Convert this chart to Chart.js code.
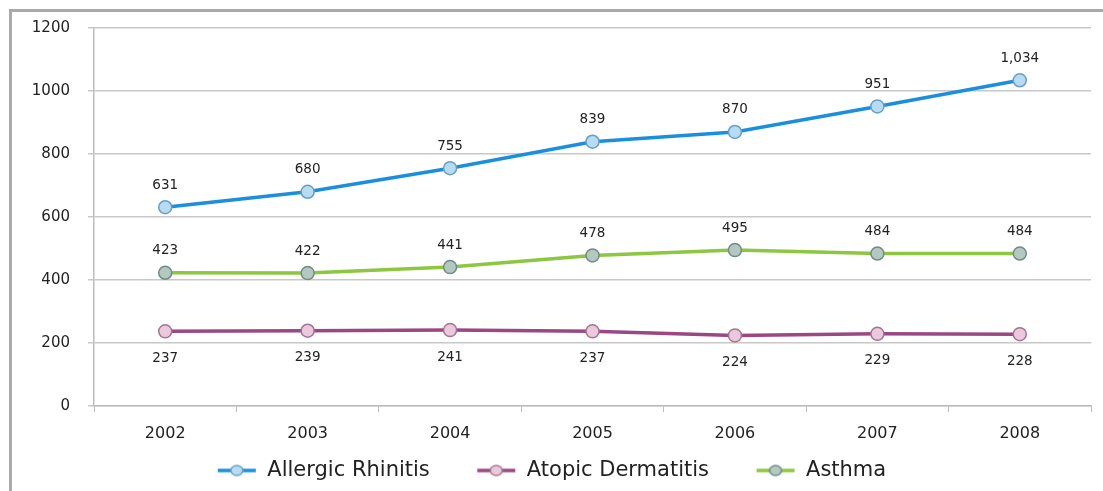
<!DOCTYPE html>
<html>
<head>
<meta charset="utf-8">
<script src="https://cdn.jsdelivr.net/npm/chart.js@4"></script>
<style>
  html, body { margin: 0; padding: 0; background: #fff; }
  #wrap { position: relative; width: 1103px; height: 491px; overflow: hidden; }
  #frame { position: absolute; left: 9px; top: 9px; width: 1200px; height: 600px;
           border-left: 3px solid #a9a9a9; border-top: 3px solid #a9a9a9; }
  canvas { position: absolute; left: 0; top: 0; }
</style>
</head>
<body>
<div id="wrap">
  <div id="frame"></div>
  <canvas id="c" width="1103" height="491"></canvas>
</div>
<script>
const years = ['2002', '2003', '2004', '2005', '2006', '2007', '2008'];
const allergicRhinitis = [631, 680, 755, 839, 870, 951, 1034];
const atopicDermatitis = [237, 239, 241, 237, 224, 229, 228];
const asthma = [423, 422, 441, 478, 495, 484, 484];
const yTicks = [0, 200, 400, 600, 800, 1000, 1200];

const FONT = '"DejaVu Sans", Verdana, sans-serif';
// extra gap after a legend entry (em + en space)
const LEGEND_GAP = '\u2003\u2002';

// Legend swatch: a short line with a circle marker on it
function swatch(line, fill, edge) {
  const cv = document.createElement('canvas');
  cv.width = 40; cv.height = 16;
  const g = cv.getContext('2d');
  g.strokeStyle = line; g.lineWidth = 3.5;
  g.beginPath(); g.moveTo(1, 8); g.lineTo(39, 8); g.stroke();
  g.beginPath(); g.ellipse(20, 8, 6, 5, 0, 0, Math.PI * 2);
  g.fillStyle = fill; g.fill();
  g.lineWidth = 1.5; g.strokeStyle = edge; g.stroke();
  return cv;
}

const series = [
  { label: 'Allergic Rhinitis', data: allergicRhinitis, line: '#1b8fdb', fill: '#b5dcf3', edge: '#6b9fc0', pos: 'above' },
  { label: 'Atopic Dermatitis', data: atopicDermatitis, line: '#9a4784', fill: '#ecc8de', edge: '#a27692', pos: 'below' },
  { label: 'Asthma', data: asthma, line: '#8dc63f', fill: '#b3c8c0', edge: '#6f8d83', pos: 'above' }
];

// Value labels above or below each point
const valueLabels = {
  id: 'valueLabels',
  afterDatasetsDraw(chart) {
    const ctx = chart.ctx;
    ctx.save();
    ctx.font = '13.5px ' + FONT;
    ctx.fillStyle = '#222';
    ctx.textAlign = 'center';
    ctx.textBaseline = 'middle';
    chart.data.datasets.forEach((ds, i) => {
      const meta = chart.getDatasetMeta(i);
      meta.data.forEach((pt, j) => {
        const v = ds.data[j];
        const dy = ds.labelPos === 'below' ? 27 : -22;
        ctx.fillText(v.toLocaleString('en-US'), pt.x, pt.y + dy);
      });
    });
    ctx.restore();
  }
};

new Chart(document.getElementById('c'), {
  type: 'line',
  data: {
    labels: years,
    datasets: series.map(s => ({
      label: s.label,
      data: s.data,
      labelPos: s.pos,
      borderColor: s.line,
      backgroundColor: s.line,
      borderWidth: 3.5,
      tension: 0,
      pointRadius: 6.5,
      pointHoverRadius: 6.5,
      pointBackgroundColor: s.fill,
      pointBorderColor: s.edge,
      pointBorderWidth: 1.5,
      pointStyle: 'circle',
      legendSwatch: swatch(s.line, s.fill, s.edge)
    }))
  },
  options: {
    responsive: false,
    animation: false,
    layout: { padding: { left: 12, right: 12, top: 28, bottom: 0 } },
    plugins: {
      tooltip: { enabled: false },
      legend: {
        position: 'bottom',
        labels: {
          usePointStyle: true,
          pointStyleWidth: 40,
          boxHeight: 16,
          padding: 15,
          color: '#222',
          font: { family: FONT, size: 21 },
          generateLabels(chart) {
            const n = chart.data.datasets.length;
            return chart.data.datasets.map((ds, i) => ({
              text: i < n - 1 ? ds.label + LEGEND_GAP : ds.label,
              pointStyle: ds.legendSwatch,
              fillStyle: ds.borderColor,
              strokeStyle: ds.borderColor,
              lineWidth: 0,
              hidden: false,
              datasetIndex: i,
              fontColor: '#222'
            }));
          }
        }
      }
    },
    scales: {
      x: {
        offset: true,
        grid: { display: true, drawOnChartArea: false, drawTicks: true, tickLength: 6, color: '#bdbdbd', offset: true },
        border: { display: true, color: '#bdbdbd', width: 1.5 },
        ticks: { color: '#222', font: { family: FONT, size: 16 }, padding: 12 },
        afterFit(scale) { scale.height = 39; }
      },
      y: {
        min: 0, max: 1200,
        afterBuildTicks(scale) { scale.ticks = yTicks.map(v => ({ value: v })); },
        grid: { color: '#c8c8c8', lineWidth: 1.5, tickLength: 6 },
        border: { display: true, color: '#bdbdbd', width: 1.5 },
        ticks: { color: '#222', font: { family: FONT, size: 15 }, padding: 18, callback: v => String(v) },
        afterFit(scale) { scale.width = 82; }
      }
    }
  },
  plugins: [valueLabels]
});
</script>
</body>
</html>
